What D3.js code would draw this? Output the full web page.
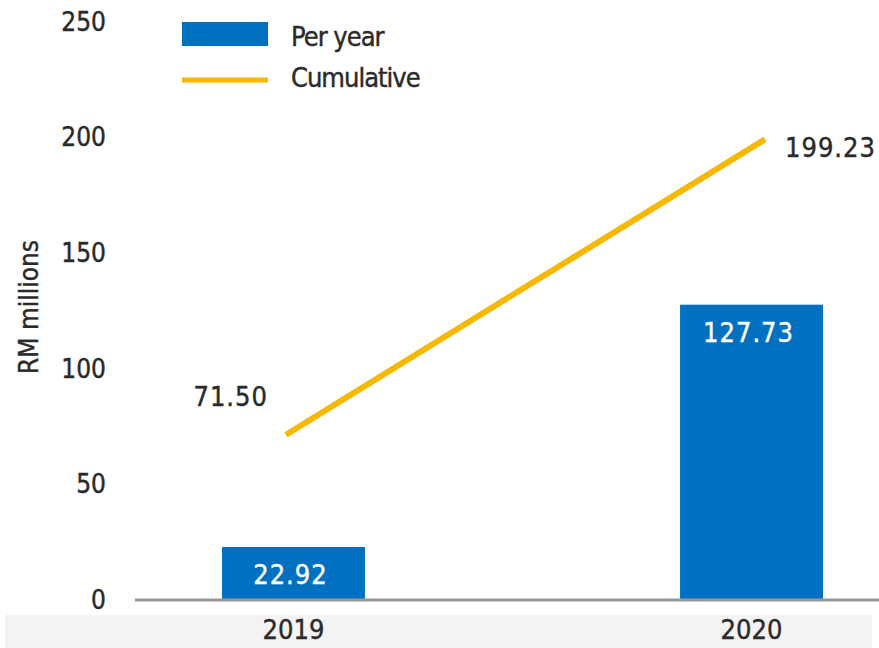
<!DOCTYPE html>
<html lang="en">
<head>
    <meta charset="UTF-8">
    <title>RM millions per year and cumulative</title>
    <script src="https://d3js.org/d3.v7.min.js"></script>
</head>

<style>
    body { margin: 0; background: #fff; }
    text {
        font-family: "DejaVu Sans Condensed", "Liberation Sans Narrow", sans-serif;
        fill: #2a2a2a;
        stroke: #2a2a2a;
        stroke-width: 0.4px;
    }
    .tick text { font-size: 26px; }
    .bar-label { fill: #fff; stroke: #fff; font-size: 27px; letter-spacing: 1px; }
    .line-label { font-size: 27px; letter-spacing: 1px; }
    .legend text { font-size: 27px; letter-spacing: -1px; }
</style>

<body>
<svg width="879" height="648"></svg>

<script>
    var years = ["2019", "2020"];
    var perYear = [22.92, 127.73];
    var cumulative = [71.50, 199.23];
    var yTicks = [0, 50, 100, 150, 200, 250];

    var svg = d3.select("svg"),
        width = +svg.attr("width"),
        height = +svg.attr("height");

    var blue = "#0070c0",
        gold = "#f6b800";

    // faint grey strip behind the year labels
    svg.append("rect")
        .attr("x", 5).attr("y", 615)
        .attr("width", width - 12).attr("height", height - 615)
        .attr("fill", "#f3f3f3");

    var y = d3.scaleLinear().domain([0, 250]).range([600, 22]);

    var x = d3.scaleBand()
        .domain(years)
        .range([135, 910])
        .paddingInner(0.688)
        .paddingOuter(0.19);

    var lineX = d3.scalePoint().domain(years).range([286, 765]);

    // y tick labels, no axis line
    var yAxis = svg.append("g")
        .attr("transform", "translate(106,0)")
        .call(d3.axisLeft(y).tickValues(yTicks).tickSize(0).tickPadding(0));
    yAxis.select(".domain").remove();

    svg.append("text")
        .attr("transform", "translate(38,307) rotate(-90)")
        .attr("text-anchor", "middle")
        .style("font-size", "26px")
        .text("RM millions");

    // bars
    svg.append("g")
        .selectAll("rect")
        .data(years)
        .enter().append("rect")
        .attr("x", function(d) { return x(d); })
        .attr("y", function(d, i) { return y(perYear[i]); })
        .attr("width", x.bandwidth())
        .attr("height", function(d, i) { return y(0) - y(perYear[i]); })
        .attr("fill", blue);

    // baseline
    svg.append("line")
        .attr("x1", 135).attr("x2", width)
        .attr("y1", y(0)).attr("y2", y(0))
        .attr("stroke", "#999")
        .attr("stroke-width", 3);

    // x labels
    var xAxis = svg.append("g")
        .attr("transform", "translate(0," + (y(0) + 20) + ")")
        .call(d3.axisBottom(x).tickSize(0).tickPadding(0));
    xAxis.select(".domain").remove();
    xAxis.selectAll("text").style("font-size", "27px").attr("dy", "0.71em");

    // bar value labels
    svg.append("g")
        .selectAll("text")
        .data(years)
        .enter().append("text")
        .attr("class", "bar-label")
        .attr("x", function(d) { return x(d) + x.bandwidth() / 2 - 3; })
        .attr("y", function(d, i) { return y(perYear[i]) + 28; })
        .attr("dy", "0.35em")
        .attr("text-anchor", "middle")
        .text(function(d, i) { return perYear[i].toFixed(2); });

    // cumulative line
    var line = d3.line()
        .x(function(d, i) { return lineX(years[i]); })
        .y(function(d) { return y(d); });

    svg.append("path")
        .datum(cumulative)
        .attr("d", line)
        .attr("fill", "none")
        .attr("stroke", gold)
        .attr("stroke-width", 6);

    svg.append("text")
        .attr("class", "line-label")
        .attr("x", lineX(years[0]) - 18)
        .attr("y", y(cumulative[0]) - 38)
        .attr("dy", "0.35em")
        .attr("text-anchor", "end")
        .text(cumulative[0].toFixed(2));

    svg.append("text")
        .attr("class", "line-label")
        .attr("x", lineX(years[1]) + 20)
        .attr("y", y(cumulative[1]) + 8)
        .attr("dy", "0.35em")
        .attr("text-anchor", "start")
        .text(cumulative[1].toFixed(2));

    // legend
    var legend = svg.append("g").attr("class", "legend");
    legend.append("rect")
        .attr("x", 182).attr("y", 22)
        .attr("width", 86).attr("height", 24)
        .attr("fill", blue);
    legend.append("line")
        .attr("x1", 182).attr("x2", 268)
        .attr("y1", 80).attr("y2", 80)
        .attr("stroke", gold).attr("stroke-width", 5);
    legend.append("text")
        .attr("x", 291).attr("y", 37).attr("dy", "0.35em")
        .text("Per year");
    legend.append("text")
        .attr("x", 291).attr("y", 78).attr("dy", "0.35em")
        .text("Cumulative");
</script>
</body>
</html>
